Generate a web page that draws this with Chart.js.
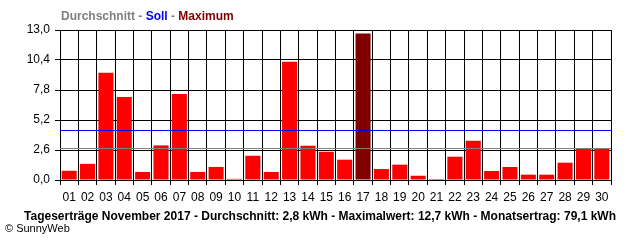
<!DOCTYPE html>
<html>
<head>
    <title>Tageserträge November 2017</title>
    <script src="https://cdn.jsdelivr.net/npm/chart.js@4/dist/chart.umd.min.js"></script>
    <style>
        body {
            margin: 0;
            background: white;
        }
        #wrap {
            position: relative;
            width: 640px;
            height: 240px;
        }
    </style>
</head>
<body>
    <div id="wrap">
        <canvas id="chart" width="640" height="240"></canvas>
    </div>

    <script>
        // Daily yields in kWh
        const days = ['01','02','03','04','05','06','07','08','09','10','11','12','13','14','15',
                      '16','17','18','19','20','21','22','23','24','25','26','27','28','29','30'];
        const yields = [0.8, 1.4, 9.3, 7.2, 0.7, 3.0, 7.45, 0.7, 1.13, 0.1, 2.1, 0.7, 10.25, 2.97, 2.45,
                        1.76, 12.7, 0.95, 1.33, 0.37, 0.09, 2.02, 3.4, 0.78, 1.13, 0.46, 0.46, 1.5, 2.74, 2.74];
        const yTicks = [0, 2.6, 5.2, 7.8, 10.4, 13.0];
        const average = 2.74;
        const target = 4.3;

        const maxValue = Math.max(...yields);
        const barColors = yields.map(v => v === maxValue ? '#800000' : '#FF0000');

        const FONT = '"Liberation Sans", Arial, sans-serif';

        // average (grey) and target (blue) lines plus the texts
        const overlay = {
            id: 'overlay',
            afterDatasetsDraw(chart) {
                const ctx = chart.ctx;
                const area = chart.chartArea;
                const y = chart.scales.y;

                ctx.save();
                ctx.lineWidth = 1;
                ctx.strokeStyle = '#808080';
                ctx.beginPath();
                ctx.moveTo(area.left, Math.round(y.getPixelForValue(average)) + 0.5);
                ctx.lineTo(area.right, Math.round(y.getPixelForValue(average)) + 0.5);
                ctx.stroke();

                ctx.strokeStyle = '#0000FF';
                ctx.beginPath();
                ctx.moveTo(area.left, Math.round(y.getPixelForValue(target)) + 0.5);
                ctx.lineTo(area.right, Math.round(y.getPixelForValue(target)) + 0.5);
                ctx.stroke();
                ctx.restore();
            },
            afterDraw(chart) {
                const ctx = chart.ctx;
                ctx.save();
                ctx.textBaseline = 'middle';

                // legend line at the top
                ctx.font = 'bold 12px ' + FONT;
                ctx.textAlign = 'left';
                let x = 61;
                const parts = [
                    ['Durchschnitt', '#808080'], [' - ', '#808080'],
                    ['Soll', '#0000FF'], [' - ', '#808080'],
                    ['Maximum', '#800000']
                ];
                for (const [text, color] of parts) {
                    ctx.fillStyle = color;
                    ctx.fillText(text, x, 17);
                    x += ctx.measureText(text).width;
                }

                // summary line
                ctx.fillStyle = 'black';
                ctx.textAlign = 'center';
                ctx.fillText('Tageserträge November 2017 - Durchschnitt: 2,8 kWh - Maximalwert: 12,7 kWh - Monatsertrag: 79,1 kWh', 320, 217);

                ctx.font = '11px ' + FONT;
                ctx.textAlign = 'left';
                ctx.fillText('© SunnyWeb', 5, 229);
                ctx.restore();
            }
        };

        new Chart(document.getElementById('chart'), {
            type: 'bar',
            data: {
                labels: days,
                datasets: [{
                    data: yields,
                    backgroundColor: barColors,
                    borderWidth: 0,
                    barPercentage: 0.82,
                    categoryPercentage: 1.0
                }]
            },
            plugins: [overlay],
            options: {
                responsive: false,
                animation: false,
                layout: {
                    padding: { top: 30, right: 29, bottom: 35, left: 0 }
                },
                plugins: {
                    legend: { display: false },
                    tooltip: { enabled: false },
                    title: { display: false }
                },
                scales: {
                    x: {
                        offset: true,
                        grid: {
                            offset: true,
                            color: 'black',
                            lineWidth: 1,
                            tickLength: 5,
                            drawOnChartArea: true
                        },
                        border: { color: 'black' },
                        ticks: {
                            color: 'black',
                            font: { family: FONT, size: 12 },
                            padding: 5,
                            maxRotation: 0,
                            autoSkip: false
                        },
                        afterFit(scale) { scale.height = 25; }
                    },
                    y: {
                        min: 0,
                        max: 13,
                        afterBuildTicks(scale) {
                            scale.ticks = yTicks.map(v => ({ value: v }));
                        },
                        grid: {
                            color: 'black',
                            lineWidth: 1,
                            tickLength: 5
                        },
                        border: { color: 'black' },
                        ticks: {
                            color: 'black',
                            font: { family: FONT, size: 12 },
                            padding: 5,
                            callback: v => v.toFixed(1).replace('.', ',')
                        },
                        afterFit(scale) { scale.width = 60; }
                    }
                }
            }
        });
    </script>
</body>
</html>
